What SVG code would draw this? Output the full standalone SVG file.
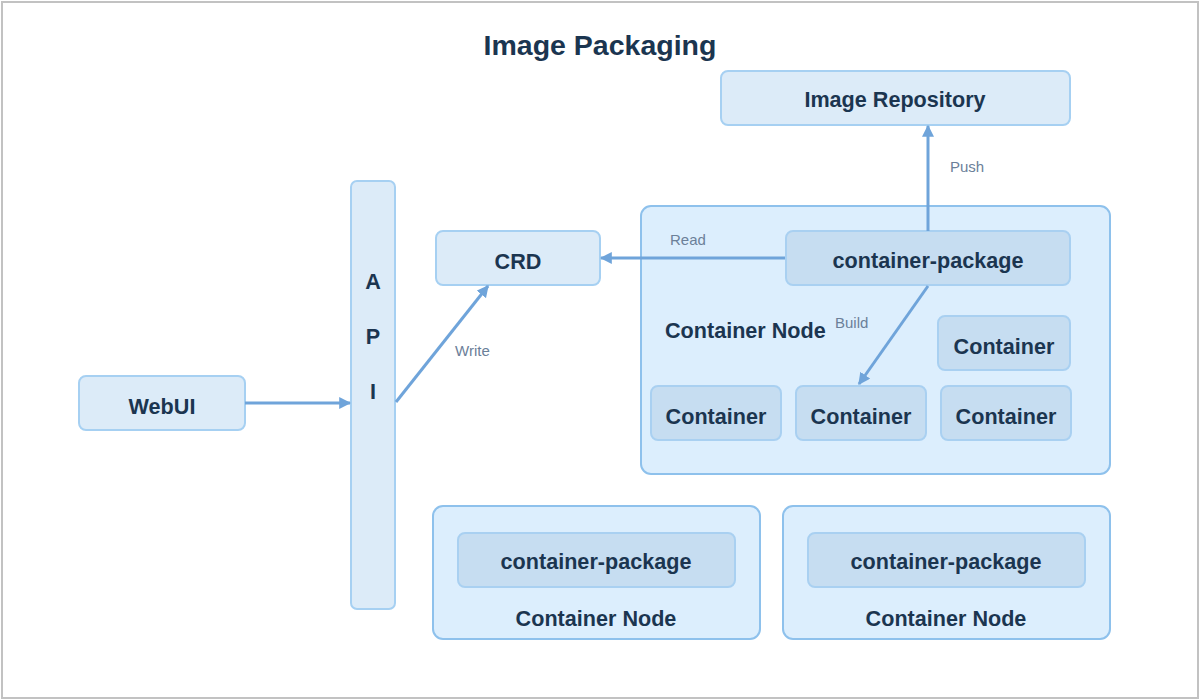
<svg xmlns="http://www.w3.org/2000/svg" width="1200" height="700" viewBox="0 0 1200 700">
<style>
.box{fill:#dcebf8;stroke:#a6d0f2;stroke-width:2}
.grp{fill:#dceefd;stroke:#8ec1ec;stroke-width:2}
.inner{fill:#c6ddf1;stroke:#a9d0f1;stroke-width:2}
.t{font-family:"Liberation Sans",Arial,sans-serif;font-weight:bold;font-size:21.6px;fill:#1b3550;text-anchor:middle;dominant-baseline:central}
.el{font-family:"Liberation Sans",Arial,sans-serif;font-size:15px;fill:#6b8099}
.c{stroke:#6fa4da;stroke-width:3;fill:none}
</style>
<defs>
<marker id="ah" viewBox="0 0 10 10" refX="9" refY="5" markerWidth="4" markerHeight="4" orient="auto" markerUnits="strokeWidth">
<path d="M0,0 L10,5 L0,10 z" fill="#6fa4da"/>
</marker>
</defs>
<rect x="0" y="0" width="1200" height="700" fill="#fff"/>
<rect x="2" y="2" width="1196" height="696" fill="none" stroke="#c2c2c2" stroke-width="2"/>
<text x="600" y="45" class="t" style="font-size:28.5px">Image Packaging</text>

<g id="image-repository"><rect class="box" x="721" y="71" width="349" height="54" rx="7"/><text class="t" x="895" y="99">Image Repository</text></g>
<g id="api"><rect class="box" x="351" y="181" width="44" height="428" rx="6"/><text class="t" x="373" y="281">A</text><text class="t" x="373" y="336">P</text><text class="t" x="373" y="391">I</text></g>
<g id="crd"><rect class="box" x="436" y="231" width="164" height="54" rx="7"/><text class="t" x="518" y="261">CRD</text></g>
<g id="webui"><rect class="box" x="79" y="376" width="166" height="54" rx="7"/><text class="t" x="162" y="406">WebUI</text></g>

<g id="container-node-1">
<rect class="grp" x="641" y="206" width="469" height="268" rx="10"/>
<text class="t" x="665" y="330" style="text-anchor:start">Container Node</text>
<g id="container-package-1"><rect class="inner" x="786" y="231" width="284" height="54" rx="7"/><text class="t" x="928" y="260">container-package</text></g>
<g id="container-1"><rect class="inner" x="938" y="316" width="132" height="54" rx="7"/><text class="t" x="1004" y="346">Container</text></g>
<g id="container-2"><rect class="inner" x="651" y="386" width="130" height="54" rx="7"/><text class="t" x="716" y="416">Container</text></g>
<g id="container-3"><rect class="inner" x="796" y="386" width="130" height="54" rx="7"/><text class="t" x="861" y="416">Container</text></g>
<g id="container-4"><rect class="inner" x="941" y="386" width="130" height="54" rx="7"/><text class="t" x="1006" y="416">Container</text></g>
</g>

<g id="container-node-2">
<rect class="grp" x="433" y="506" width="327" height="133" rx="10"/>
<g id="container-package-2"><rect class="inner" x="458" y="533" width="277" height="54" rx="7"/><text class="t" x="596" y="561">container-package</text></g>
<text class="t" x="596" y="618">Container Node</text>
</g>
<g id="container-node-3">
<rect class="grp" x="783" y="506" width="327" height="133" rx="10"/>
<g id="container-package-3"><rect class="inner" x="808" y="533" width="277" height="54" rx="7"/><text class="t" x="946" y="561">container-package</text></g>
<text class="t" x="946" y="618">Container Node</text>
</g>

<g id="connectors">
<line class="c" x1="245" y1="403" x2="350" y2="403" marker-end="url(#ah)"/>
<line class="c" x1="396" y1="402" x2="488" y2="286" marker-end="url(#ah)"/>
<text class="el" x="455" y="356">Write</text>
<line class="c" x1="785" y1="258" x2="601" y2="258" marker-end="url(#ah)"/>
<text class="el" x="670" y="245">Read</text>
<line class="c" x1="928" y1="231" x2="928" y2="126" marker-end="url(#ah)"/>
<text class="el" x="950" y="172">Push</text>
<line class="c" x1="928" y1="286" x2="859" y2="384" marker-end="url(#ah)"/>
<text class="el" x="835" y="328">Build</text>
</g>
</svg>
